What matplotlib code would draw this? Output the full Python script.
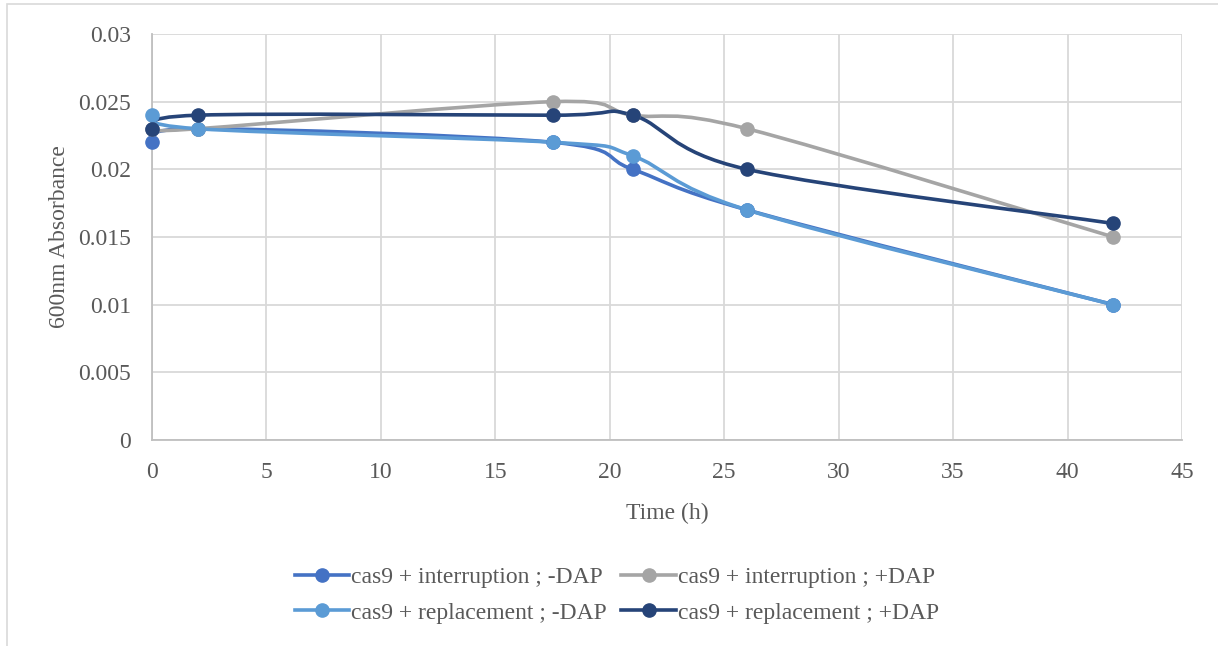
import numpy as np
import matplotlib
matplotlib.use("Agg")
import matplotlib.pyplot as plt
from matplotlib.path import Path
from matplotlib.patches import PathPatch, Rectangle
from matplotlib.lines import Line2D
from matplotlib.ticker import MultipleLocator, FuncFormatter

plt.rcParams['font.family'] = ['Liberation Serif', 'DejaVu Serif']

# data
time_h = [0, 2, 17.5, 21, 26, 42]
int_minus = [0.022, 0.023, 0.022, 0.020, 0.017, 0.010]
int_plus = [0.023, 0.023, 0.025, 0.024, 0.023, 0.015]
rep_minus = [0.024, 0.023, 0.022, 0.021, 0.017, 0.010]
rep_plus = [0.023, 0.024, 0.024, 0.024, 0.020, 0.016]

labels = ["cas9 + interruption ; -DAP", "cas9 + interruption ; +DAP",
          "cas9 + replacement ; -DAP", "cas9 + replacement ; +DAP"]
colors = ["#4472C4", "#A5A5A5", "#5B9BD5", "#264478"]
series = [int_minus, int_plus, rep_minus, rep_plus]

grey_txt = "#595959"
grid_c = "#D9D9D9"
fs = 17


def smooth_path(x, y):
    # excel-like smoothed line: cubic bezier segments between the points
    x = np.asarray(x, float)
    y = np.asarray(y, float)
    n = len(x)
    verts = [(x[0], y[0])]
    codes = [Path.MOVETO]
    for i in range(n - 1):
        p0 = np.array([x[max(i - 1, 0)], y[max(i - 1, 0)]])
        p1 = np.array([x[i], y[i]])
        p2 = np.array([x[i + 1], y[i + 1]])
        p3 = np.array([x[min(i + 2, n - 1)], y[min(i + 2, n - 1)]])
        c1 = p1 + (p2 - p0) / 6.0
        c2 = p2 - (p3 - p1) / 6.0
        verts += [tuple(c1), tuple(c2), tuple(p2)]
        codes += [Path.CURVE4] * 3
    return Path(verts, codes)


fig = plt.figure(figsize=(12.18, 6.46), dpi=100)
ax = fig.add_axes([152 / 1218, 1 - 440 / 646, 1030 / 1218, 406 / 646])

# chart border
fig.patches.append(Rectangle((7 / 1218, -0.1), 1.2, 1 - 4 / 646 + 0.1,
                             transform=fig.transFigure, fill=False,
                             edgecolor="#D9D9D9", lw=1.2, clip_on=False))

for ys, c in zip(series, colors):
    ax.add_patch(PathPatch(smooth_path(time_h, ys), fill=False, edgecolor=c,
                           lw=2.6, capstyle='round', joinstyle='round',
                           zorder=3, clip_on=False))
    ax.plot(time_h, ys, linestyle='none', marker='o', ms=9.5, color=c,
            zorder=4, clip_on=False)

ax.set_xlim(0, 45)
ax.set_ylim(0, 0.03)
ax.xaxis.set_major_locator(MultipleLocator(5))
ax.yaxis.set_major_locator(MultipleLocator(0.005))
ax.yaxis.set_major_formatter(FuncFormatter(lambda v, p: f"{round(v, 4):g}"))
ax.grid(True, color=grid_c, lw=1.3)
ax.set_axisbelow(True)
for s in ["top", "right"]:
    ax.spines[s].set_visible(False)
for s in ["left", "bottom"]:
    ax.spines[s].set_color("#BFBFBF")
    ax.spines[s].set_linewidth(1.3)
ax.tick_params(length=0, labelsize=fs, labelcolor=grey_txt)
ax.tick_params(axis='x', pad=16)
ax.tick_params(axis='y', pad=15)

ax.set_xlabel("Time (h)", fontsize=fs, color=grey_txt, labelpad=14)
ax.set_ylabel("600nm Absorbance", fontsize=fs, color=grey_txt, labelpad=6)

handles = [Line2D([], [], color=c, lw=2.6, marker='o', ms=9.5) for c in colors]
order = [0, 2, 1, 3]
ax.legend([handles[i] for i in order], [labels[i] for i in order], ncol=2,
          loc='center', bbox_to_anchor=(617 / 1218, 1 - 595 / 646),
          bbox_transform=fig.transFigure, frameon=False, fontsize=fs,
          labelcolor=grey_txt, handlelength=2.3, handletextpad=0.1,
          columnspacing=0.6, labelspacing=0.6)

fig.savefig("out.png", dpi=100)
